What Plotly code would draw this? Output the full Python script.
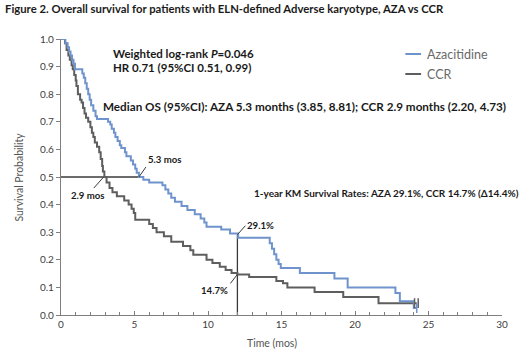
import plotly.graph_objects as go

# ---- data ----
aza_t = [0, 0.3, 0.45, 0.55, 0.65, 0.75, 0.85, 0.95, 1.45, 1.55, 1.65, 1.75, 1.85, 1.95, 2.05, 2.2,
         2.35, 2.45, 3.2, 3.35, 3.45, 3.6, 3.7, 3.85, 4.0, 4.1, 4.35, 4.45, 4.75, 4.9, 5.05, 5.15, 5.3,
         5.6, 6.0, 6.9, 7.1, 7.3, 7.5, 7.75, 8.2, 8.6, 9.1, 9.5, 9.75, 9.9, 10.9, 11.5, 12.05,
         14.2, 14.35, 14.5, 14.65, 14.8, 14.95, 16.25, 18.6, 19.5, 22.75, 23.05, 24.0, 24.2]
aza_s = [1.0, 0.985, 0.97, 0.955, 0.94, 0.925, 0.91, 0.89, 0.875, 0.86, 0.84, 0.82, 0.80, 0.78, 0.76, 0.74,
         0.72, 0.71, 0.70, 0.69, 0.675, 0.66, 0.645, 0.63, 0.615, 0.605, 0.59, 0.575, 0.56, 0.545, 0.53, 0.515, 0.50,
         0.49, 0.48, 0.47, 0.455, 0.44, 0.425, 0.41, 0.395, 0.38, 0.365, 0.35, 0.335, 0.32, 0.31, 0.295, 0.28,
         0.26, 0.24, 0.22, 0.20, 0.185, 0.17, 0.152, 0.132, 0.10, 0.08, 0.05, 0.025, 0.025]

ccr_t = [0, 0.27, 0.38, 0.5, 0.6, 0.72, 0.8, 0.9, 1.0, 1.05, 1.15, 1.3, 1.4, 1.5, 1.6, 1.7, 1.85, 2.0,
         2.1, 2.2, 2.3, 2.45, 2.6, 2.7, 2.8, 2.85, 2.95, 3.1, 3.3, 3.5, 3.8, 4.3, 4.6, 4.8, 4.95, 5.05,
         6.0, 6.25, 6.5, 7.0, 7.5, 8.3, 8.8, 9.0, 9.9, 10.3, 10.8, 11.2, 11.6, 12.0, 12.8, 14.65, 15.1,
         15.4, 17.25, 19.2, 21.6, 24.2]
ccr_s = [1.0, 0.985, 0.96, 0.94, 0.925, 0.905, 0.89, 0.87, 0.85, 0.83, 0.80, 0.78, 0.77, 0.75, 0.73, 0.715, 0.70, 0.68,
         0.66, 0.645, 0.625, 0.61, 0.59, 0.565, 0.54, 0.52, 0.50, 0.48, 0.46, 0.445, 0.43, 0.415, 0.40, 0.385, 0.37, 0.345,
         0.33, 0.315, 0.30, 0.285, 0.265, 0.25, 0.235, 0.218, 0.20, 0.188, 0.175, 0.163, 0.152, 0.147, 0.138, 0.123, 0.115,
         0.10, 0.083, 0.065, 0.043, 0.043]

censor_aza_t = [24.2]
censor_aza_s = [0.025]
censor_ccr_t = [24.05, 24.3]
censor_ccr_s = [0.043, 0.043]

median_aza = 5.3
median_ccr = 2.9
landmark = 12
landmark_aza = 0.291
landmark_ccr = 0.147

series_names = ["Azacitidine", "CCR"]
x_ticks = [0, 5, 10, 15, 20, 25, 30]
y_ticks = [0.0, 0.1, 0.2, 0.3, 0.4, 0.5, 0.6, 0.7, 0.8, 0.9, 1.0]

BLUE = "#6f93cc"
GRAY = "#5e5e5e"
REF = "#3a3a3a"
FONT = "Lato"

fig = go.Figure()

# reference lines
fig.add_trace(go.Scatter(x=[0, median_aza], y=[0.5, 0.5], mode="lines",
                         line=dict(color=REF, width=1.3), showlegend=False, hoverinfo="skip"))
fig.add_trace(go.Scatter(x=[landmark, landmark], y=[0, landmark_aza], mode="lines",
                         line=dict(color=REF, width=1.3), showlegend=False, hoverinfo="skip"))

fig.add_trace(go.Scatter(x=ccr_t, y=ccr_s, mode="lines", line=dict(color=GRAY, width=2, shape="hv"),
                         name=series_names[1], showlegend=False))
fig.add_trace(go.Scatter(x=aza_t, y=aza_s, mode="lines", line=dict(color=BLUE, width=2, shape="hv"),
                         name=series_names[0], showlegend=False))
fig.add_trace(go.Scatter(x=censor_ccr_t, y=censor_ccr_s, mode="markers",
                         marker=dict(symbol="line-ns-open", size=7, color=GRAY, line=dict(color=GRAY, width=1.5)),
                         showlegend=False, hoverinfo="skip"))
fig.add_trace(go.Scatter(x=censor_aza_t, y=censor_aza_s, mode="markers",
                         marker=dict(symbol="line-ns-open", size=7, color=BLUE, line=dict(color=BLUE, width=1.5)),
                         showlegend=False, hoverinfo="skip"))

# plot area in pixels: x 61..508, y 39..315
L, R, T, B = 61, 508, 39, 315
def px(x):
    return (x - L) / (R - L)
def py(y):
    return (B - y) / (B - T)

ann = []
ann.append(dict(text="<b>Figure 2. Overall survival for patients with ELN-defined Adverse karyotype, AZA vs CCR</b>",
                x=px(2), y=py(9), xanchor="left", yanchor="middle", font=dict(size=11.3, color="#1a1a1a")))
ann.append(dict(text="<b>Weighted log-rank <i>P</i>=0.046</b>", x=px(112), y=py(53),
                xanchor="left", yanchor="middle", font=dict(size=11.5, color="#1a1a1a")))
ann.append(dict(text="<b>HR 0.71 (95%CI 0.51, 0.99)</b>", x=px(112), y=py(67),
                xanchor="left", yanchor="middle", font=dict(size=11.5, color="#1a1a1a")))
ann.append(dict(text="<b>Median OS (95%CI): AZA 5.3 months (3.85, 8.81); CCR 2.9 months (2.20, 4.73)</b>",
                x=px(102), y=py(106), xanchor="left", yanchor="middle", font=dict(size=11.7, color="#1a1a1a")))
ann.append(dict(text="<b>1-year KM Survival Rates: AZA 29.1%, CCR 14.7% (Δ14.4%)</b>",
                x=px(255), y=py(193), xanchor="left", yanchor="middle", font=dict(size=10.0, color="#1a1a1a")))
ann.append(dict(text=series_names[0], x=px(430), y=py(54),
                xanchor="left", yanchor="middle", font=dict(size=12.5, color="#6a6a6a")))
ann.append(dict(text=series_names[1], x=px(430), y=py(74),
                xanchor="left", yanchor="middle", font=dict(size=12.5, color="#6a6a6a")))
ann.append(dict(text="Survival Probability", x=px(18), y=0.5, textangle=-90,
                xanchor="center", yanchor="middle", font=dict(size=10.5, color="#555555")))
ann.append(dict(text="Time (mos)", x=px(275), y=py(343),
                xanchor="center", yanchor="middle", font=dict(size=10.5, color="#555555")))
for a in ann:
    a.update(xref="paper", yref="paper", showarrow=False)

# leader-line labels
lab_font = dict(size=9.6, color="#1a1a1a")
ann.append(dict(text="<b>5.3 mos</b>", x=median_aza, y=0.5, xref="x", yref="y", showarrow=True,
                arrowhead=0, arrowwidth=1, arrowcolor=REF, ax=7, ay=-10, xanchor="left", yanchor="bottom",
                font=lab_font))
ann.append(dict(text="<b>2.9 mos</b>", x=median_ccr, y=0.5, xref="x", yref="y", showarrow=True,
                arrowhead=0, arrowwidth=1, arrowcolor=REF, ax=-16, ay=18,
                font=lab_font))
ann.append(dict(text="<b>29.1%</b>", x=landmark, y=landmark_aza, xref="x", yref="y", showarrow=True,
                arrowhead=0, arrowwidth=1, arrowcolor=REF, ax=8, ay=-9, xanchor="left", yanchor="middle",
                font=lab_font))
ann.append(dict(text="<b>14.7%</b>", x=landmark, y=landmark_ccr, xref="x", yref="y", showarrow=True,
                arrowhead=0, arrowwidth=1, arrowcolor=REF, ax=-7, ay=9, xanchor="right", yanchor="top",
                font=lab_font))

# legend keys (short line samples, as in the reference)
shapes = [
    dict(type="line", xref="paper", yref="paper", x0=px(410), x1=px(426), y0=py(54), y1=py(54),
         line=dict(color=BLUE, width=2)),
    dict(type="line", xref="paper", yref="paper", x0=px(410), x1=px(426), y0=py(74), y1=py(74),
         line=dict(color=GRAY, width=2)),
]

fig.update_layout(
    width=520, height=350,
    margin=dict(l=L, r=520 - R, t=T, b=350 - B),
    paper_bgcolor="white", plot_bgcolor="white",
    font=dict(family=FONT, color="#404040"),
    annotations=ann,
    shapes=shapes,
    showlegend=False,
)
fig.update_xaxes(range=[0, 30], tickvals=x_ticks, ticktext=[str(v) for v in x_ticks],
                 showgrid=False, zeroline=False, showline=True, linecolor="#7f7f7f", linewidth=1.3,
                 ticks="inside", ticklen=4, tickcolor="#7f7f7f", tickfont=dict(size=10, color="#404040"),
                 minor=dict(dtick=1, ticks="inside", ticklen=3, tickcolor="#7f7f7f"))
fig.update_yaxes(range=[0, 1.0], tickvals=y_ticks, ticktext=[f"{v:.1f}" for v in y_ticks],
                 showgrid=False, zeroline=False, showline=True, linecolor="#7f7f7f", linewidth=1.3,
                 ticks="outside", ticklen=4, tickcolor="#7f7f7f", tickfont=dict(size=10, color="#404040"))

fig.write_html("out.html", config={"displayModeBar": False},
               post_script="document.body.style.margin='0';document.body.style.overflow='hidden';")
